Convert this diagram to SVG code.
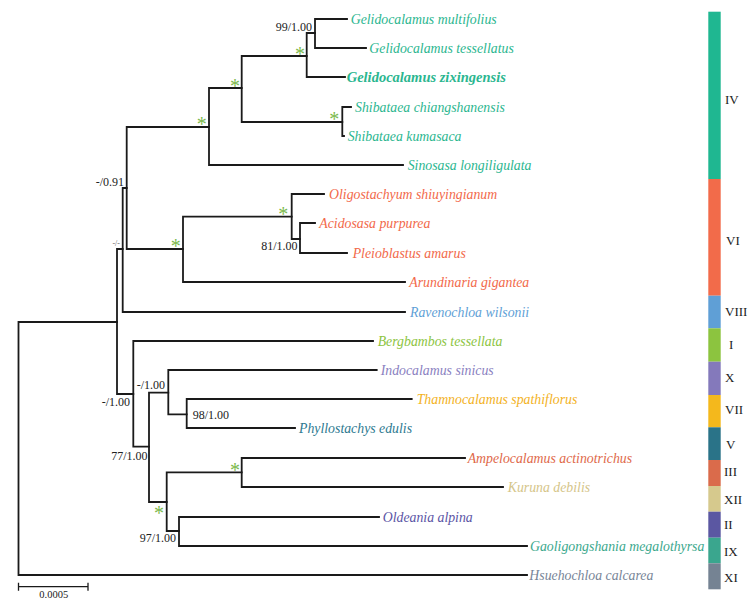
<svg xmlns="http://www.w3.org/2000/svg" width="756" height="601" viewBox="0 0 756 601">
<style>
.br{fill:none;stroke:#1a1a1a;stroke-width:1.8;stroke-linecap:square}
.tx{font-family:"Liberation Serif","Times New Roman",serif;font-style:italic;font-size:13.8px}
.sp{font-family:"Liberation Serif","Times New Roman",serif;font-size:12px;fill:#222;text-anchor:end}
.st{font-family:"Liberation Serif","Times New Roman",serif;font-size:20px;fill:#7ab94b;text-anchor:middle}
.rn{font-family:"Liberation Serif","Times New Roman",serif;font-size:13px;fill:#222}
.c4{fill:#2bb68f}.c6{fill:#f2694a}.c8{fill:#5f9fd6}.c1{fill:#8cc43f}.c10{fill:#8a7fbf}.c7{fill:#f3b21e}.c5{fill:#2d7990}.c3{fill:#e0694a}.c12{fill:#d5c589}.c2{fill:#5b55a5}.c9{fill:#3ba88d}.c11{fill:#788597}
</style>
<rect width="756" height="601" fill="#ffffff"/>
<g id="connectors">
<path class="br" d="M18.5,322V575M18.5,322H117M18.5,575H527"/>
<path class="br" d="M117,249V394M117,249H122.7M117,394H133.3"/>
<path class="br" d="M122.7,188V312M122.7,188H126.7M122.7,312H405"/>
<path class="br" d="M126.7,127V249M126.7,127H209M126.7,249H183"/>
<path class="br" d="M209,88V165M209,88H241.7M209,165H403"/>
<path class="br" d="M241.7,56V122M241.7,56H306.7M241.7,122H342.3"/>
<path class="br" d="M306.7,33V77M306.7,33H315M306.7,77H345"/>
<path class="br" d="M315,19V48M315,19H347M315,48H366"/>
<path class="br" d="M342.3,107V136M342.3,107H351M342.3,136H344"/>
<path class="br" d="M183,216.7V282M183,216.7H291.7M183,282H405"/>
<path class="br" d="M291.7,194V239M291.7,194H324M291.7,239H300"/>
<path class="br" d="M300,223V253M300,223H315M300,253H347"/>
<path class="br" d="M133.3,341V446.7M133.3,341H373M133.3,446.7H149"/>
<path class="br" d="M149,392.7V502M149,392.7H168.3M149,502H166.7"/>
<path class="br" d="M168.3,370V414.3M168.3,370H376.7M168.3,414.3H186.7"/>
<path class="br" d="M186.7,399V428M186.7,399H411.7M186.7,428H295"/>
<path class="br" d="M166.7,472.3V531M166.7,472.3H241.7M166.7,531H179"/>
<path class="br" d="M241.7,458V487M241.7,458H465M241.7,487H503"/>
<path class="br" d="M179,517V546M179,517H379M179,546H527"/>
</g>
<g id="support">
<text class="sp" x="312" y="31">99/1.00</text>
<text class="sp" x="124" y="186">-/0.91</text>
<text class="sp" x="120" y="246" style="font-size:8px;fill:#666">-/-</text>
<text class="sp" x="297.5" y="250">81/1.00</text>
<text class="sp" x="130" y="406">-/1.00</text>
<text class="sp" x="165" y="389">-/1.00</text>
<text class="sp" x="229" y="419">98/1.00</text>
<text class="sp" x="147.5" y="460">77/1.00</text>
<text class="sp" x="176" y="542">97/1.00</text>
<text class="st" x="300" y="60.6">*</text>
<text class="st" x="235" y="92.6">*</text>
<text class="st" x="201.7" y="130.6">*</text>
<text class="st" x="334.3" y="126.3">*</text>
<text class="st" x="283.3" y="220.6">*</text>
<text class="st" x="175.7" y="253.3">*</text>
<text class="st" x="235" y="477.3">*</text>
<text class="st" x="159" y="519.6">*</text>
</g>
<g id="taxa">
<g id="t1"><text class="tx c4" x="350.7" y="23.5">Gelidocalamus multifolius</text></g>
<g id="t2"><text class="tx c4" x="369.3" y="52.5">Gelidocalamus tessellatus</text></g>
<g id="t3"><text class="tx c4" x="346.7" y="81.5" font-weight="bold" style="font-size:14.5px">Gelidocalamus zixingensis</text></g>
<g id="t4"><text class="tx c4" x="355" y="111.5">Shibataea chiangshanensis</text></g>
<g id="t5"><text class="tx c4" x="347.7" y="140.5">Shibataea kumasaca</text></g>
<g id="t6"><text class="tx c4" x="407.7" y="169.5">Sinosasa longiligulata</text></g>
<g id="t7"><text class="tx c6" x="329" y="198.5">Oligostachyum shiuyingianum</text></g>
<g id="t8"><text class="tx c6" x="319.3" y="227.5">Acidosasa purpurea</text></g>
<g id="t9"><text class="tx c6" x="352.7" y="257.5">Pleioblastus amarus</text></g>
<g id="t10"><text class="tx c6" x="409.3" y="286.5">Arundinaria gigantea</text></g>
<g id="t11"><text class="tx c8" x="410" y="316.5">Ravenochloa wilsonii</text></g>
<g id="t12"><text class="tx c1" x="377.7" y="345.5">Bergbambos tessellata</text></g>
<g id="t13"><text class="tx c10" x="380.7" y="374.5">Indocalamus sinicus</text></g>
<g id="t14"><text class="tx c7" x="416.7" y="403.5">Thamnocalamus spathiflorus</text></g>
<g id="t15"><text class="tx c5" x="299" y="432.5">Phyllostachys edulis</text></g>
<g id="t16"><text class="tx c3" x="467.7" y="462.5">Ampelocalamus actinotrichus</text></g>
<g id="t17"><text class="tx c12" x="507.7" y="491.5">Kuruna debilis</text></g>
<g id="t18"><text class="tx c2" x="382.7" y="521.5">Oldeania alpina</text></g>
<g id="t19"><text class="tx c9" x="530" y="550.5">Gaoligongshania megalothyrsa</text></g>
<g id="t20"><text class="tx c11" x="529.3" y="579.5">Hsuehochloa calcarea</text></g>
</g>
<g id="clade-bar">
<rect x="708.3" y="11.7" width="12.4" height="167.3" fill="#1fb791"/>
<rect x="708.3" y="179" width="12.4" height="116.7" fill="#f26b4a"/>
<rect x="708.3" y="295.7" width="12.4" height="32.6" fill="#5f9fd6"/>
<rect x="708.3" y="328.3" width="12.4" height="33.4" fill="#8cc43f"/>
<rect x="708.3" y="361.7" width="12.4" height="33.3" fill="#8479bb"/>
<rect x="708.3" y="395" width="12.4" height="32.3" fill="#f4b81c"/>
<rect x="708.3" y="427.3" width="12.4" height="32.7" fill="#2a7388"/>
<rect x="708.3" y="460" width="12.4" height="26" fill="#da6b4b"/>
<rect x="708.3" y="486" width="12.4" height="25.7" fill="#d6c98d"/>
<rect x="708.3" y="511.7" width="12.4" height="26" fill="#5b57a2"/>
<rect x="708.3" y="537.7" width="12.4" height="25.6" fill="#3aa68e"/>
<rect x="708.3" y="563.3" width="12.4" height="26" fill="#758393"/>
<text class="rn" x="725" y="104">IV</text>
<text class="rn" x="726" y="245">VI</text>
<text class="rn" x="725" y="316">VIII</text>
<text class="rn" x="729" y="349">I</text>
<text class="rn" x="725" y="382">X</text>
<text class="rn" x="725" y="414">VII</text>
<text class="rn" x="726" y="449">V</text>
<text class="rn" x="724" y="476">III</text>
<text class="rn" x="724" y="504">XII</text>
<text class="rn" x="724" y="529">II</text>
<text class="rn" x="724" y="556">IX</text>
<text class="rn" x="724" y="582">XI</text>
</g>
<g id="scale">
<path class="br" d="M18.5,586.7H88M18.5,583.5V590M88,583.5V590" style="stroke-width:1.3"/>
<text x="53.8" y="598" font-family="Liberation Serif,Times New Roman,serif" font-size="10.5" fill="#222" text-anchor="middle">0.0005</text>
</g>
</svg>
